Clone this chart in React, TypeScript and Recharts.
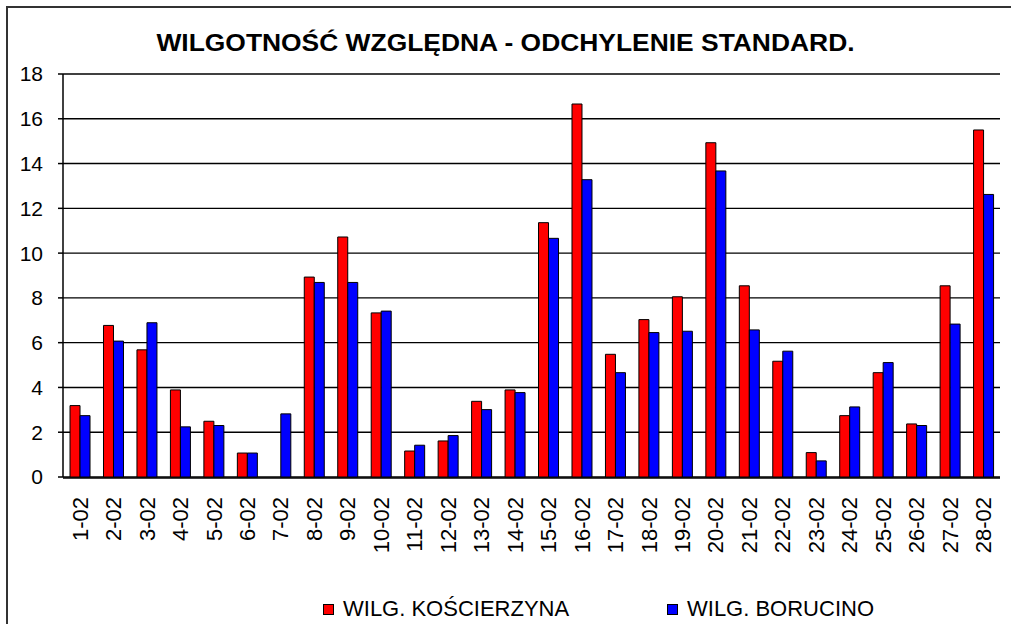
import React from 'react';
import { BarChart, Bar, XAxis, YAxis, CartesianGrid, Legend } from 'recharts';

const days = [
  '1-02', '2-02', '3-02', '4-02', '5-02', '6-02', '7-02', '8-02', '9-02', '10-02',
  '11-02', '12-02', '13-02', '14-02', '15-02', '16-02', '17-02', '18-02', '19-02', '20-02',
  '21-02', '22-02', '23-02', '24-02', '25-02', '26-02', '27-02', '28-02',
];

const koscierzyna = [
  3.19, 6.77, 5.68, 3.89, 2.49, 1.07, 0, 8.93, 10.72, 7.33,
  1.16, 1.61, 3.38, 3.89, 11.36, 16.66, 5.48, 7.03, 8.05, 14.93,
  8.54, 5.17, 1.09, 2.74, 4.66, 2.37, 8.54, 15.5,
];

const borucino = [
  2.74, 6.07, 6.89, 2.24, 2.3, 1.07, 2.82, 8.69, 8.69, 7.41,
  1.42, 1.85, 3.01, 3.77, 10.66, 13.28, 4.66, 6.45, 6.51, 13.67,
  6.57, 5.62, 0.72, 3.13, 5.11, 2.3, 6.83, 12.62,
];

const yTicks = [0, 2, 4, 6, 8, 10, 12, 14, 16, 18];

const seriesNames = ['WILG. KOŚCIERZYNA', 'WILG. BORUCINO'];
const seriesColors = ['#FF0000', '#0000FF'];

const data = days.map((day, i) => ({ day, kos: koscierzyna[i], bor: borucino[i] }));
// tick marks sit between categories, so a hidden numeric axis carries them
const edgeTicks = days.map((_, i) => i).concat(days.length);

const FONT = 'Arial, "Liberation Sans", sans-serif';

function DayTick(props: any) {
  const { x, y, payload } = props;
  return (
    <g transform={`translate(${x},${y + 20}) rotate(-90)`}>
      <text textAnchor="end" dy="0.36em" fontSize={22} fill="#000" fontFamily={FONT}>
        {payload.value}
      </text>
    </g>
  );
}

function LegendBox(props: any) {
  const items = [...(props.payload || [])].sort(
    (a: any, b: any) => seriesNames.indexOf(a.value) - seriesNames.indexOf(b.value)
  );
  return (
    <div style={{ display: 'flex', alignItems: 'center', height: 22, paddingLeft: 323, fontFamily: FONT }}>
      {items.map((entry: any) => (
        <div key={entry.value} style={{ display: 'flex', alignItems: 'center', width: 370 }}>
          <span
            style={{
              display: 'inline-block',
              width: 9,
              height: 9,
              background: entry.color,
              border: '1px solid #000',
              marginRight: 9,
            }}
          />
          <span style={{ fontSize: 22, lineHeight: '22px', color: '#000' }}>{entry.value}</span>
        </div>
      ))}
    </div>
  );
}

export default function App() {
  return (
    <div
      style={{
        position: 'absolute',
        left: 0,
        top: 0,
        width: 1011,
        height: 624,
        overflow: 'hidden',
        background: '#fff',
      }}
    >
      <div
        style={{
          position: 'absolute',
          left: 6,
          top: 6,
          width: 1100,
          height: 700,
          border: '2px solid #333',
        }}
      />
      <div
        style={{
          position: 'absolute',
          left: 0,
          top: 31,
          width: 1011,
          textAlign: 'center',
          fontFamily: FONT,
          fontWeight: 'bold',
          fontSize: 24,
          lineHeight: '24px',
          color: '#000',
          transform: 'scaleX(1.1)',
        }}
      >
        WILGOTNOŚĆ WZGLĘDNA - ODCHYLENIE STANDARD.
      </div>
      <BarChart
        width={1011}
        height={624}
        data={data}
        margin={{ top: 74, right: 11, bottom: 145, left: 0 }}
        barGap={0}
        barCategoryGap="21%"
        style={{ position: 'absolute', left: 0, top: 0 }}
      >
        <CartesianGrid horizontal vertical={false} stroke="#000" strokeWidth={1.4} />
        <XAxis
          xAxisId="edges"
          type="number"
          domain={[0, days.length]}
          ticks={edgeTicks}
          interval={0}
          height={1}
          tick={false}
          tickSize={5}
          tickLine={{ stroke: '#000', strokeWidth: 1.5 }}
          axisLine={{ stroke: '#000', strokeWidth: 1.5 }}
        />
        <XAxis
          dataKey="day"
          interval={0}
          height={1}
          tickLine={false}
          tickSize={0}
          tickMargin={0}
          axisLine={false}
          tick={<DayTick />}
        />
        <YAxis
          domain={[0, 18]}
          ticks={yTicks}
          width={63}
          interval={0}
          tickSize={5}
          tickMargin={15}
          tickLine={{ stroke: '#000', strokeWidth: 1.5 }}
          axisLine={{ stroke: '#000', strokeWidth: 1.5 }}
          tick={{ fill: '#000', fontSize: 21, fontFamily: FONT }}
        />
        <YAxis
          yAxisId="right"
          orientation="right"
          domain={[0, 18]}
          width={0}
          tick={false}
          tickLine={false}
          axisLine={{ stroke: '#000', strokeWidth: 1.5 }}
        />
        <Legend
          layout="horizontal"
          verticalAlign="middle"
          align="center"
          wrapperStyle={{ top: 598, left: 0, width: 1011 }}
          content={<LegendBox />}
        />
        <Bar
          dataKey="kos"
          name={seriesNames[0]}
          fill={seriesColors[0]}
          stroke="#000"
          strokeWidth={1}
          isAnimationActive={false}
        />
        <Bar
          dataKey="bor"
          name={seriesNames[1]}
          fill={seriesColors[1]}
          stroke="#000"
          strokeWidth={1}
          isAnimationActive={false}
        />
      </BarChart>
    </div>
  );
}
